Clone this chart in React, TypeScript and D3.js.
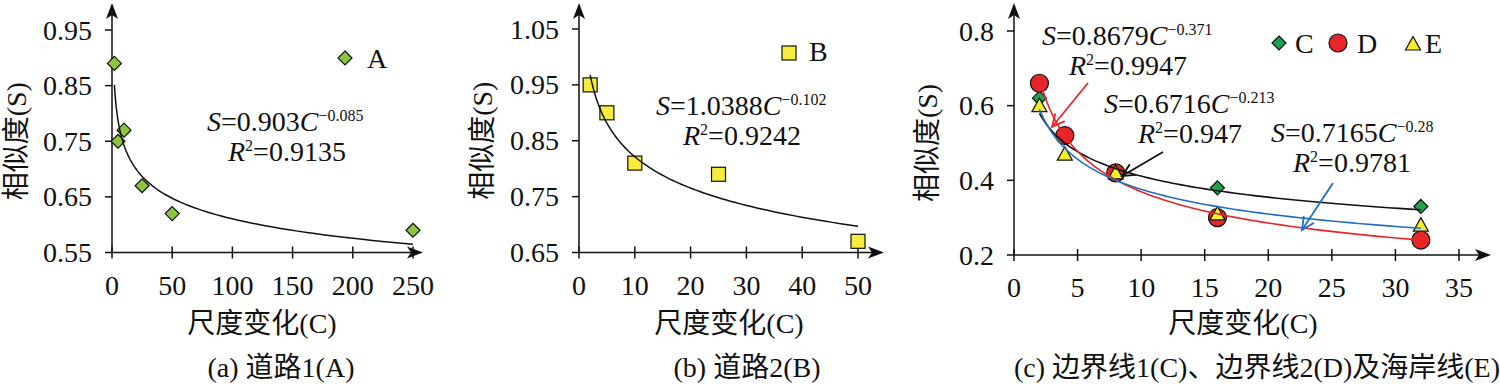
import React from 'react';
import * as d3 from 'd3';

// panel (a) 道路1
const scaleA = [2, 5, 10, 25, 50, 250];
const simA = [0.89, 0.75, 0.77, 0.67, 0.62, 0.59];
const fitA = [0.903, -0.085];
const ticksXA = [0, 50, 100, 150, 200, 250];
const ticksYA = [0.55, 0.65, 0.75, 0.85, 0.95];

// panel (b) 道路2
const scaleB = [2, 5, 10, 25, 50];
const simB = [0.95, 0.9, 0.81, 0.79, 0.67];
const fitB = [1.0388, -0.102];
const ticksXB = [0, 10, 20, 30, 40, 50];
const ticksYB = [0.65, 0.75, 0.85, 0.95, 1.05];

// panel (c) 边界线/海岸线
const scaleC = [2, 4, 8, 16, 32];
const simC = [0.62, 0.52, 0.42, 0.38, 0.33];
const simD = [0.66, 0.52, 0.42, 0.3, 0.24];
const simE = [0.6, 0.47, 0.42, 0.31, 0.28];
const fitC = [0.6716, -0.213];
const fitD = [0.8679, -0.371];
const fitE = [0.7165, -0.28];
const ticksXC = [0, 5, 10, 15, 20, 25, 30, 35];
const ticksYC = [0.2, 0.4, 0.6, 0.8];

const FONT = '"Liberation Serif", "Times New Roman", "Noto Sans CJK SC", serif';

function powerCurve(fit: number[], x0: number, x1: number, x: any, y: any) {
  const pts = d3.range(0, 101).map(i => {
    const c = x0 * Math.pow(x1 / x0, i / 100);
    return [x(c), y(fit[0] * Math.pow(c, fit[1]))] as [number, number];
  });
  return d3.line()(pts) || '';
}

function Diamond({ cx, cy, r, fill }: any) {
  return <path d={`M${cx},${cy - r}L${cx + r},${cy}L${cx},${cy + r}L${cx - r},${cy}Z`} fill={fill} stroke="#111" strokeWidth={1.2} />;
}
function Square({ cx, cy, r, fill }: any) {
  return <rect x={cx - r} y={cy - r} width={2 * r} height={2 * r} fill={fill} stroke="#111" strokeWidth={1.2} />;
}
function Triangle({ cx, cy, r, fill }: any) {
  return <path d={`M${cx},${cy - r}L${cx + r},${cy + r * 0.8}L${cx - r},${cy + r * 0.8}Z`} fill={fill} stroke="#111" strokeWidth={1.2} />;
}
function Circle({ cx, cy, r, fill }: any) {
  return <circle cx={cx} cy={cy} r={r} fill={fill} stroke="#111" strokeWidth={1.2} />;
}

function Axes({ x, y, ticksX, ticksY, xEnd, yTop, fmtY, titleX, caption, captionX, ylabelX }: any) {
  const [x0] = x.range();
  const [y0] = y.range();
  const midY = (y.range()[0] + y.range()[1]) / 2;
  return (
    <g>
      <line x1={x0} x2={x0} y1={y0} y2={yTop + 10} stroke="#111" strokeWidth={1.5} />
      <path d={`M${x0},${yTop}L${x0 + 6},${yTop + 16}L${x0},${yTop + 12}L${x0 - 6},${yTop + 16}Z`} fill="#111" />
      <line x1={x0} x2={xEnd - 10} y1={y0} y2={y0} stroke="#111" strokeWidth={1.5} />
      <path d={`M${xEnd},${y0}L${xEnd - 16},${y0 - 6}L${xEnd - 12},${y0}L${xEnd - 16},${y0 + 6}Z`} fill="#111" />
      {ticksY.map((t: number) => (
        <g key={'y' + t}>
          <line x1={x0 - 7} x2={x0} y1={y(t)} y2={y(t)} stroke="#111" strokeWidth={1.5} />
          <text x={x0 - 20} y={y(t)} dy="0.34em" textAnchor="end" fontSize={28}>{fmtY(t)}</text>
        </g>
      ))}
      {ticksX.map((t: number) => (
        <g key={'x' + t}>
          <line x1={x(t)} x2={x(t)} y1={y0 - 6} y2={y0 + 6} stroke="#111" strokeWidth={1.5} />
          <text x={x(t)} y={y0 + 42} textAnchor="middle" fontSize={28}>{t}</text>
        </g>
      ))}
      <text transform={`translate(${ylabelX},${midY}) rotate(-90)`} textAnchor="middle" fontSize={28}>相似度(S)</text>
      <text x={titleX} y={333} textAnchor="middle" fontSize={28}>尺度变化(C)</text>
      <text x={captionX} y={377} textAnchor="middle" fontSize={28}>{caption}</text>
    </g>
  );
}

function Equation({ x, y, a, b, r2, gap = 29 }: any) {
  return (
    <g fontSize={28}>
      <text x={x} y={y}>
        <tspan fontStyle="italic">S</tspan>=<tspan>{a}</tspan><tspan fontStyle="italic">C</tspan>
        <tspan fontSize={16} dy={-10}>{'\u2212' + b}</tspan>
      </text>
      <text x={x + gap} y={y + 30}>
        <tspan fontStyle="italic">R</tspan><tspan fontSize={16} dy={-10}>2</tspan><tspan dy={10}>={r2}</tspan>
      </text>
    </g>
  );
}

function Arrow({ x1, y1, x2, y2, color }: any) {
  const ang = Math.atan2(y2 - y1, x2 - x1);
  const L = 14, w = 0.45;
  const p1 = [x2 - L * Math.cos(ang - w), y2 - L * Math.sin(ang - w)];
  const p2 = [x2 - L * Math.cos(ang + w), y2 - L * Math.sin(ang + w)];
  return (
    <g stroke={color} strokeWidth={1.8} fill="none">
      <line x1={x1} y1={y1} x2={x2} y2={y2} />
      <path d={`M${p1[0]},${p1[1]}L${x2},${y2}L${p2[0]},${p2[1]}`} />
    </g>
  );
}

export default function App() {
  const xA = d3.scaleLinear().domain([0, 250]).range([112, 413]);
  const yA = d3.scaleLinear().domain([0.55, 0.95]).range([252.5, 30]);
  const xB = d3.scaleLinear().domain([0, 50]).range([579, 858]);
  const yB = d3.scaleLinear().domain([0.65, 1.05]).range([252.5, 29]);
  const xC = d3.scaleLinear().domain([0, 35]).range([1014, 1459]);
  const yC = d3.scaleLinear().domain([0.2, 0.8]).range([255, 31]);
  const f2 = d3.format('.2f');
  const f1 = d3.format('.1f');

  return (
    <svg width={1500} height={386} style={{ position: 'absolute', left: 0, top: 0, background: '#fff' }} fontFamily={FONT} fill="#111">
      {/* (a) */}
      <Axes x={xA} y={yA} ticksX={ticksXA} ticksY={ticksYA} xEnd={423} yTop={3} fmtY={f2}
        titleX={262} caption="(a) 道路1(A)" captionX={281} ylabelX={26} />
      {scaleA.map((c, i) => <Diamond key={i} cx={xA(c)} cy={yA(simA[i])} r={7} fill="#8cc63f" />)}
      <path d={powerCurve(fitA, 2, 250, xA, yA)} stroke="#111" strokeWidth={1.5} fill="none" />
      <Diamond cx={345} cy={58} r={7} fill="#8cc63f" />
      <text x={367} y={68} fontSize={28}>A</text>
      <Equation x={207} y={131} a="0.903" b="0.085" r2="0.9135" gap={21} />

      {/* (b) */}
      <Axes x={xB} y={yB} ticksX={ticksXB} ticksY={ticksYB} xEnd={884} yTop={3} fmtY={f2}
        titleX={729} caption="(b) 道路2(B)" captionX={747} ylabelX={492} />
      {scaleB.map((c, i) => <Square key={i} cx={xB(c)} cy={yB(simB[i])} r={7} fill="#f7ec3c" />)}
      <path d={powerCurve(fitB, 2, 50, xB, yB)} stroke="#111" strokeWidth={1.5} fill="none" />
      <Square cx={789} cy={53} r={7} fill="#f7ec3c" />
      <text x={809} y={61} fontSize={28}>B</text>
      <Equation x={656} y={115} a="1.0388" b="0.102" r2="0.9242" gap={27} />

      {/* (c) */}
      <Axes x={xC} y={yC} ticksX={ticksXC} ticksY={ticksYC} xEnd={1491} yTop={3} fmtY={f1}
        titleX={1243} caption="(c) 边界线1(C)、边界线2(D)及海岸线(E)" captionX={1257} ylabelX={937} />
      {scaleC.map((c, i) => <Diamond key={'c' + i} cx={xC(c)} cy={yC(simC[i])} r={7} fill="#23a04b" />)}
      {scaleC.map((c, i) => <Circle key={'d' + i} cx={xC(c)} cy={yC(simD[i])} r={9} fill="#e8262a" />)}
      {scaleC.map((c, i) => <Triangle key={'e' + i} cx={xC(c)} cy={yC(simE[i])} r={7.5} fill="#f5ef2a" />)}
      <path d={powerCurve(fitC, 2, 32, xC, yC)} stroke="#111" strokeWidth={1.6} fill="none" />
      <path d={powerCurve(fitD, 2, 32, xC, yC)} stroke="#e8262a" strokeWidth={1.6} fill="none" />
      <path d={powerCurve(fitE, 2, 32, xC, yC)} stroke="#1f6fc0" strokeWidth={1.6} fill="none" />
      <Diamond cx={1279} cy={43} r={7} fill="#23a04b" />
      <text x={1295} y={53} fontSize={28}>C</text>
      <Circle cx={1338} cy={43} r={9} fill="#e8262a" />
      <text x={1357} y={53} fontSize={28}>D</text>
      <Triangle cx={1413} cy={44} r={7.5} fill="#f5ef2a" />
      <text x={1425} y={53} fontSize={28}>E</text>
      <Equation x={1042} y={45} a="0.8679" b="0.371" r2="0.9947" gap={27} />
      <Equation x={1104} y={113} a="0.6716" b="0.213" r2="0.947" gap={34} />
      <Equation x={1271} y={142} a="0.7165" b="0.28" r2="0.9781" gap={22} />
      <Arrow x1={1088} y1={83} x2={1052} y2={127} color="#e8262a" />
      <Arrow x1={1163} y1={152} x2={1122} y2={176} color="#111" />
      <Arrow x1={1333} y1={183} x2={1302} y2={230} color="#1f6fc0" />
    </svg>
  );
}
